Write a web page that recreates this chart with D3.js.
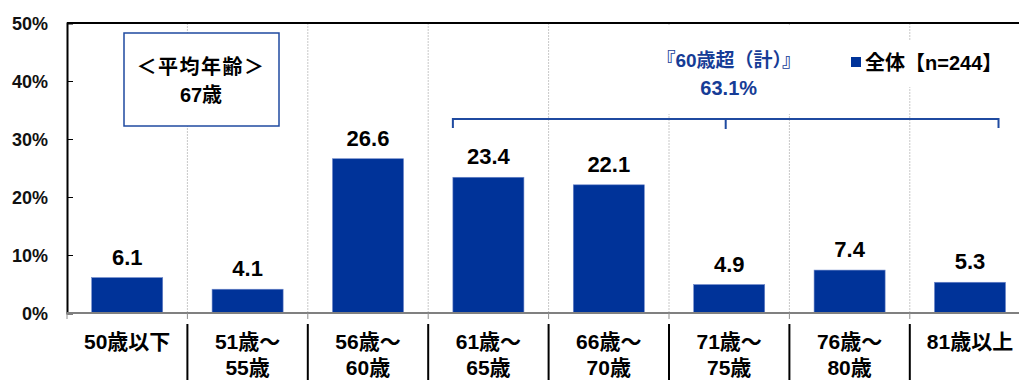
<!DOCTYPE html>
<html>
<head>
<meta charset="utf-8">
<script src="https://cdn.jsdelivr.net/npm/d3@7"></script>
<style>
  html, body { margin: 0; padding: 0; background: #fff; }
  svg { display: block; }
  text { font-family: "Liberation Sans", Arial, "Noto Sans CJK JP", sans-serif; }
</style>
</head>
<body>
<svg id="chart" width="1019" height="380"></svg>
<script>
// Age groups (two-line labels) and share of respondents (%)
const categories = ["50歳以下", "51歳～55歳", "56歳～60歳", "61歳～65歳", "66歳～70歳", "71歳～75歳", "76歳～80歳", "81歳以上"];
const labelLines = [["50歳以下"], ["51歳～", "55歳"], ["56歳～", "60歳"], ["61歳～", "65歳"], ["66歳～", "70歳"], ["71歳～", "75歳"], ["76歳～", "80歳"], ["81歳以上"]];
const values = [6.1, 4.1, 26.6, 23.4, 22.1, 4.9, 7.4, 5.3];
const yTicks = [0, 10, 20, 30, 40, 50];
const seriesName = "全体【n=244】";
const avgTitle = "＜平均年齢＞";
const avgValue = "67歳";
const over60Title = "『60歳超（計）』";
const over60Value = "63.1%";
const over60Groups = ["61歳～65歳", "66歳～70歳", "71歳～75歳", "76歳～80歳", "81歳以上"];

const BAR = "#003399";
const ANNO = "#1f4aa0";
const ANNO_TEXT = "#163c96";
const JP = '"Liberation Sans", Arial, "Noto Sans CJK JP", sans-serif';

const svg = d3.select("#chart");
const plotLeft = 67, plotTop = 23, plotBottom = 313, step = 120.4;
const plotRight = plotLeft + step * categories.length;

const x = d3.scaleBand().domain(categories).range([plotLeft, plotRight]).paddingInner(0.41).paddingOuter(0.205);
const y = d3.scaleLinear().domain([0, 50]).range([plotBottom, plotTop]);

// vertical dotted separators between categories
const bounds = categories.slice(1).map(c => x(c) - x.step() * x.paddingInner() / 2);
svg.append("g").selectAll("line").data(bounds).join("line")
  .attr("x1", d => d).attr("x2", d => d).attr("y1", plotTop).attr("y2", plotBottom)
  .attr("stroke", "#c8c8c8").attr("stroke-width", 1).attr("stroke-dasharray", "2,1");

// plot frame (top)
svg.append("line").attr("x1", plotLeft).attr("x2", plotRight).attr("y1", plotTop).attr("y2", plotTop)
  .attr("stroke", "#000").attr("stroke-width", 2);

// bars
svg.append("g").selectAll("rect").data(values).join("rect")
  .attr("x", (d, i) => x(categories[i]))
  .attr("y", d => y(d))
  .attr("width", x.bandwidth())
  .attr("height", d => y(0) - y(d))
  .attr("fill", BAR)
  .attr("stroke", "#6d86c9").attr("stroke-width", 0.6);

// value labels
svg.append("g").selectAll("text").data(values).join("text")
  .attr("x", (d, i) => x(categories[i]) + x.bandwidth() / 2)
  .attr("y", d => y(d) - 13)
  .attr("text-anchor", "middle")
  .attr("font-size", 22).attr("font-weight", "bold").attr("fill", "#000")
  .text(d => d.toFixed(1));

// y axis
const yAxis = d3.axisRight(y).tickValues(yTicks).tickSize(6).tickFormat("");
const gy = svg.append("g").attr("transform", `translate(${plotLeft},0)`).call(yAxis);
gy.select(".domain").attr("stroke", "#000").attr("stroke-width", 2);
gy.selectAll(".tick line").attr("stroke", "#000").attr("stroke-width", 1);
svg.append("g").selectAll("text").data(yTicks).join("text")
  .attr("x", 48).attr("y", d => y(d) + 7)
  .attr("text-anchor", "end")
  .attr("font-size", 18).attr("font-weight", "bold").attr("fill", "#111")
  .text(d => d + "%");

// x axis baseline and boundary ticks
svg.append("line").attr("x1", plotLeft).attr("x2", plotRight).attr("y1", plotBottom).attr("y2", plotBottom)
  .attr("stroke", "#808080").attr("stroke-width", 2);
svg.append("g").selectAll("line").data([plotLeft, ...bounds]).join("line")
  .attr("x1", d => d).attr("x2", d => d).attr("y1", plotBottom).attr("y2", plotBottom + 6)
  .attr("stroke", "#909090").attr("stroke-width", 1);

// black separators between category labels
svg.append("g").selectAll("line").data(bounds).join("line")
  .attr("x1", d => d).attr("x2", d => d).attr("y1", 324).attr("y2", 380)
  .attr("stroke", "#000").attr("stroke-width", 2);

// category labels
const xl = svg.append("g").selectAll("text").data(categories).join("text")
  .attr("x", d => x(d) + x.bandwidth() / 2)
  .attr("y", 349)
  .attr("text-anchor", "middle")
  .attr("font-size", 21).attr("font-weight", "bold").attr("fill", "#000")
  .style("font-family", JP);
xl.each(function(d, i) {
  const t = d3.select(this);
  labelLines[i].forEach((ln, k) => {
    t.append("tspan").attr("x", x(d) + x.bandwidth() / 2).attr("dy", k === 0 ? 0 : 26).text(ln);
  });
});

// average age box
svg.append("rect").attr("x", 124).attr("y", 33).attr("width", 155).attr("height", 93)
  .attr("fill", "#fff").attr("stroke", ANNO).attr("stroke-width", 1.5);
svg.append("text").attr("x", 201).attr("y", 74).attr("text-anchor", "middle")
  .attr("font-size", 20).attr("font-weight", "bold").attr("letter-spacing", 1.5).style("font-family", JP)
  .text(avgTitle);
svg.append("text").attr("x", 201).attr("y", 102).attr("text-anchor", "middle")
  .attr("font-size", 20).attr("font-weight", "bold").style("font-family", JP)
  .text(avgValue);

// over-60 bracket
const bx1 = x(over60Groups[0]);
const bx2 = x(over60Groups[over60Groups.length - 1]) + x.bandwidth() - 7;
const bmid = (bx1 + bx2) / 2;
svg.append("rect").attr("x", 640).attr("y", 26).attr("width", 176).attr("height", 88).attr("fill", "#fff");
svg.append("path")
  .attr("d", `M${bx1},128 V119 H${bx2} V128 M${bmid},119 V129`)
  .attr("fill", "none").attr("stroke", ANNO).attr("stroke-width", 2);
svg.append("text").attr("x", bmid + 3).attr("y", 67).attr("text-anchor", "middle")
  .attr("font-size", 19).attr("font-weight", "bold").attr("fill", ANNO_TEXT).style("font-family", JP)
  .text(over60Title);
svg.append("text").attr("x", bmid + 3).attr("y", 95).attr("text-anchor", "middle")
  .attr("font-size", 20).attr("font-weight", "bold").attr("fill", ANNO_TEXT)
  .text(over60Value);

// legend
svg.append("rect").attr("x", 846).attr("y", 40).attr("width", 172).attr("height", 47).attr("fill", "#fff");
svg.append("rect").attr("x", 851).attr("y", 57).attr("width", 10).attr("height", 10).attr("fill", BAR);
svg.append("text").attr("x", 865).attr("y", 70)
  .attr("font-size", 20).attr("font-weight", "bold").attr("fill", "#000").style("font-family", JP)
  .text(seriesName);
</script>
</body>
</html>
